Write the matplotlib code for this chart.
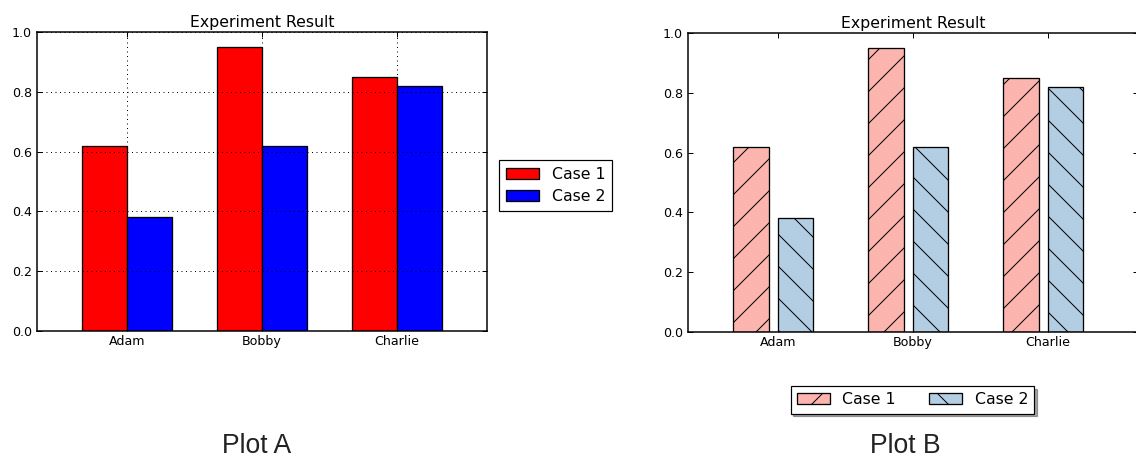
"""Side-by-side grouped bar charts: plain colours vs. pastel hatched."""

import matplotlib

matplotlib.use("Agg")
import matplotlib.pyplot as plt
import numpy as np

names = ["Adam", "Bobby", "Charlie"]
case1 = [0.62, 0.95, 0.85]
case2 = [0.38, 0.62, 0.82]
series_labels = ["Case 1", "Case 2"]
yticks = [0.0, 0.2, 0.4, 0.6, 0.8, 1.0]

# dpi picked so the default hatch spacing matches the reference
DPI = 96
W, H = 1136, 457
PX = 72.0 / DPI  # one pixel in points

plt.rcParams["font.family"] = ["DejaVu Sans"]
plt.rcParams["hatch.linewidth"] = 1.0 * PX
plt.rcParams["axes.linewidth"] = 1.5 * PX


def style_axes(ax, grid):
    ax.set_xlim(-0.667, 2.667)
    ax.set_ylim(0, 1.0)
    ax.set_xticks(np.arange(len(names)))
    ax.set_xticklabels(names)
    ax.set_yticks(yticks)
    ax.set_yticklabels([f"{t:.1f}" for t in yticks])
    ax.tick_params(direction="in", top=True, right=True, length=5 * PX,
                   width=1 * PX, labelsize=12.6 * PX)
    ax.tick_params(axis="y", pad=5 * PX)
    ax.tick_params(axis="x", pad=4 * PX)
    ax.set_title("Experiment Result", fontsize=15.8 * PX, pad=5 * PX)
    if grid:
        ax.grid(True, color="black", linestyle=(0, (1, 3.5)), linewidth=1 * PX)
        ax.set_axisbelow(False)


fig = plt.figure(figsize=(W / DPI, H / DPI), dpi=DPI)
fig.patch.set_facecolor("white")

x = np.arange(len(names))

# Plot A
ax_a = fig.add_axes([37 / W, 1 - 331 / H, 450 / W, 299 / H])
ax_a.bar(x - 0.333, case1, 0.333, align="edge", color="#FF0000",
         edgecolor="black", linewidth=1.3 * PX, label=series_labels[0], zorder=1)
ax_a.bar(x, case2, 0.333, align="edge", color="#0000FF",
         edgecolor="black", linewidth=1.3 * PX, label=series_labels[1], zorder=1)
style_axes(ax_a, grid=True)
leg_a = ax_a.legend(loc="center left", bbox_to_anchor=(499 / W, 1 - 185.5 / H),
                    bbox_transform=fig.transFigure, borderaxespad=0,
                    fontsize=15.7 * PX, handlelength=2.1, handleheight=0.7,
                    handletextpad=0.8, labelspacing=0.5, borderpad=0.45,
                    fancybox=False, edgecolor="black", framealpha=1)
leg_a.get_frame().set_linewidth(1.2 * PX)

# Plot B
ax_b = fig.add_axes([688 / W, 1 - 332 / H, 450 / W, 299 / H])
ax_b.bar(x - 0.333, case1, 0.265, align="edge", color="#FBB4AE", hatch="/",
         edgecolor="black", linewidth=1.3 * PX, label=series_labels[0])
ax_b.bar(x, case2, 0.262, align="edge", color="#B3CDE3", hatch="\\",
         edgecolor="black", linewidth=1.3 * PX, label=series_labels[1])
style_axes(ax_b, grid=False)
leg_b = ax_b.legend(loc="upper center", bbox_to_anchor=(912.5 / W, 1 - 386 / H),
                    bbox_transform=fig.transFigure, borderaxespad=0, ncol=2,
                    fontsize=15.7 * PX, handlelength=2.1, handleheight=0.7,
                    handletextpad=0.8, columnspacing=2.1, borderpad=0.4,
                    fancybox=False, edgecolor="black", framealpha=1,
                    shadow={"ox": 2.5 * PX, "oy": -2.5 * PX})
leg_b.get_frame().set_linewidth(1.2 * PX)

fig.text(257 / W, 1 - 453 / H, "Plot A", ha="center", va="baseline",
         fontsize=26.5 * PX, family=["Liberation Sans", "DejaVu Sans"], color="#222222")
fig.text(905 / W, 1 - 453 / H, "Plot B", ha="center", va="baseline",
         fontsize=26.5 * PX, family=["Liberation Sans", "DejaVu Sans"], color="#222222")

fig.savefig("out.png", dpi=DPI, facecolor="white")
